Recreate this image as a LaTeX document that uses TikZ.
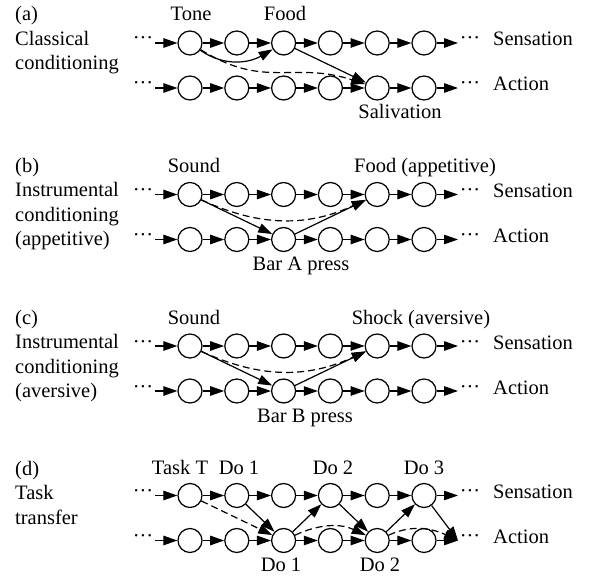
\documentclass[tikz,border=0pt]{standalone}
\usepackage{fontspec}
\setmainfont{Liberation Serif}
\usetikzlibrary{arrows.meta}
\tikzset{
  st/.style={circle, draw, line width=1.25pt, minimum size=24pt, inner sep=0pt},
  arr/.style={-{Triangle[length=14pt,width=9.5pt]}, line width=1.2pt},
  dsh/.style={arr, dash pattern=on 7pt off 4pt},
  txt/.style={font=\fontsize{20.5}{24}\selectfont, inner sep=0pt, anchor=base},
  ltxt/.style={txt, anchor=base west},
}
\newcommand{\mkrows}[2]{%
  \foreach \r/\yy in {s/0, a/45} {
    \foreach \i in {1,...,6} {
      \node[st] (#1\r\i) at ({190+46.8*(\i-1)}, {#2+\yy}) {};
    }
    \node[txt] (#1\r L) at (143, {#2+\yy+2}) {···};
    \coordinate (#1\r b) at (155, {#2+\yy});
    \coordinate (#1\r e) at (458, {#2+\yy});
    \node[txt] (#1\r R) at (470, {#2+\yy+2}) {···};
    \draw[arr] (#1\r b) -- (#1\r1);
    \foreach \i [evaluate=\i as \j using int(\i+1)] in {1,...,5} {\draw[arr] (#1\r\i) -- (#1\r\j);}
    \draw[arr] (#1\r6) -- (#1\r e);
  }
  \node[ltxt] (#1sens) at (493, {#2+3}) {Sensation};
  \node[ltxt] (#1act) at (493, {#2+48}) {Action};
}
\begin{document}
\begin{tikzpicture}[x=1pt,y=-1pt]
\useasboundingbox (0,0) rectangle (591,577);
% ---------- (a)
\mkrows{A}{43}
\node[ltxt] (Al1) at (15,21) {(a)};
\node[ltxt] (Al2) at (15,45.5) {Classical};
\node[ltxt] (Al3) at (15,70) {conditioning};
\node[txt] (Atone) at (191,21) {Tone};
\node[txt] (Afood) at (285,21) {Food};
\node[txt] (Asal) at (400,119) {Salivation};
\draw[arr] (As1) to[out=-35,in=-150] (As3);
\draw[dsh] (As1) to[out=-32,in=162,looseness=1.15] (Aa5);
\draw[arr] (As3) -- (Aa5);
% ---------- (b)
\mkrows{B}{194.5}
\node[ltxt] (Bl1) at (15,172.5) {(b)};
\node[ltxt] (Bl2) at (15,197) {Instrumental};
\node[ltxt] (Bl3) at (15,221.5) {conditioning};
\node[ltxt] (Bl4) at (15,246) {(appetitive)};
\node[txt] (Bsound) at (194,172.5) {Sound};
\node[txt] (Bfood) at (425,172.5) {Food (appetitive)};
\node[txt] (Bbar) at (301,270.5) {Bar A press};
\draw[arr] (Bs1) -- (Ba3);
\draw[dsh] (Bs1) to[out=-25,in=-155] (Bs5);
\draw[arr] (Ba3) -- (Bs5);
% ---------- (c)
\mkrows{C}{346}
\node[ltxt] (Cl1) at (15,324) {(c)};
\node[ltxt] (Cl2) at (15,348.5) {Instrumental};
\node[ltxt] (Cl3) at (15,373) {conditioning};
\node[ltxt] (Cl4) at (15,397.5) {(aversive)};
\node[txt] (Csound) at (194,324) {Sound};
\node[txt] (Cshock) at (421,324) {Shock (aversive)};
\node[txt] (Cbar) at (305,422) {Bar B press};
\draw[arr] (Cs1) -- (Ca3);
\draw[dsh] (Cs1) to[out=-25,in=-155] (Cs5);
\draw[arr] (Ca3) -- (Cs5);
% ---------- (d)
\mkrows{D}{495.5}
\node[ltxt] (Dl1) at (15,475) {(d)};
\node[ltxt] (Dl2) at (15,499.5) {Task};
\node[ltxt] (Dl3) at (15,524) {transfer};
\node[txt] (Dtask) at (180,474.5) {Task T};
\node[txt] (Ddo1t) at (239,474.5) {Do 1};
\node[txt] (Ddo2t) at (333,474.5) {Do 2};
\node[txt] (Ddo3t) at (424,474.5) {Do 3};
\node[txt] (Ddo1b) at (281,571) {Do 1};
\node[txt] (Ddo2b) at (380,571) {Do 2};
\draw[dsh] (Ds1) -- (Da3);
\draw[arr] (Ds2) -- (Da3);
\draw[arr] (Da3) -- (Ds4);
\draw[dsh] (Da3) to[out=25,in=155] (Da5);
\draw[arr] (Ds4) -- (Da5);
\draw[arr] (Da5) -- (Ds6);
\draw[dsh] (Da5) to[out=25,in=155] (Dae);
\draw[arr] (Ds6) -- (Dae);
\end{tikzpicture}
\end{document}
